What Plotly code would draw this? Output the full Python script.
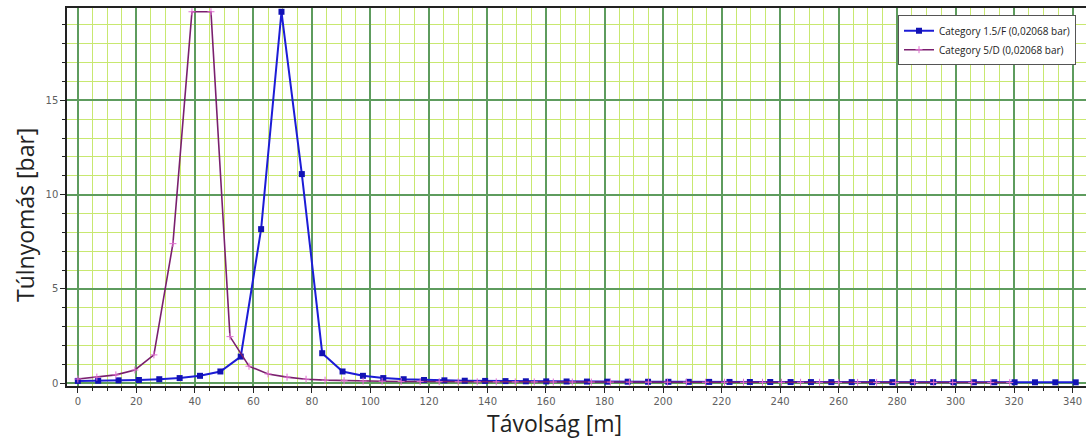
import plotly.graph_objects as go

# Distances [m]
x_15F = [0, 6.96, 13.92, 20.88, 27.84, 34.8, 41.76, 48.72, 55.68, 62.64,
         69.6, 76.56, 83.52, 90.48, 97.44, 104.4, 111.36, 118.32, 125.28, 132.24,
         139.2, 146.16, 153.12, 160.08, 167.04, 174.0, 180.96, 187.92, 194.88, 201.84,
         208.8, 215.76, 222.72, 229.68, 236.64, 243.6, 250.56, 257.52, 264.48, 271.44,
         278.4, 285.36, 292.32, 299.28, 306.24, 313.2, 320.16, 327.12, 334.08, 341.04]
y_15F = [0.12, 0.13, 0.15, 0.17, 0.21, 0.27, 0.39, 0.62, 1.41, 8.17,
         19.7, 11.09, 1.59, 0.62, 0.39, 0.27, 0.21, 0.17, 0.15, 0.13,
         0.12, 0.11, 0.10, 0.095, 0.09, 0.085, 0.08, 0.078, 0.075, 0.072,
         0.07, 0.068, 0.066, 0.064, 0.062, 0.06, 0.058, 0.057, 0.056, 0.055,
         0.054, 0.053, 0.052, 0.051, 0.05, 0.049, 0.048, 0.047, 0.046, 0.045]

x_5D = [0, 6.5, 13, 19.5, 26, 32.5, 39, 45.5, 52, 58.5,
        65, 71.5, 78, 84.5, 91, 97.5, 104, 110.5, 117, 123.5,
        130, 136.5, 143, 149.5, 156, 162.5, 169, 175.5, 182, 188.5,
        195, 201.5, 208, 214.5, 221, 227.5, 234, 240.5, 247, 253.5,
        260, 266.5, 273, 279.5, 286, 292.5, 299, 305.5, 312, 318.5]
y_5D = [0.22, 0.32, 0.44, 0.7, 1.5, 7.4, 19.7, 19.7, 2.47, 0.9,
        0.49, 0.32, 0.21, 0.16, 0.13, 0.11, 0.10, 0.09, 0.085, 0.08,
        0.075, 0.072, 0.07, 0.067, 0.065, 0.062, 0.06, 0.058, 0.056, 0.055,
        0.054, 0.052, 0.051, 0.05, 0.049, 0.048, 0.047, 0.046, 0.045, 0.044,
        0.043, 0.042, 0.041, 0.041, 0.04, 0.04, 0.039, 0.039, 0.038, 0.038]

x_ticks = list(range(0, 341, 20))
y_ticks = [0, 5, 10, 15]

name_15F = "Category 1.5/F (0,02068 bar)"
name_5D = "Category 5/D (0,02068 bar)"
x_title = "Távolság [m]"
y_title = "Túlnyomás [bar]"

W = 1086
L = 67
PW = W - L

fig = go.Figure()
fig.add_trace(go.Scatter(
    x=x_15F, y=y_15F, name=name_15F, mode="lines+markers",
    line=dict(color="#1c1cd6", width=2),
    marker=dict(symbol="square", size=6, color="#1212b4"),
))
fig.add_trace(go.Scatter(
    x=x_5D, y=y_5D, name=name_5D, mode="lines+markers",
    line=dict(color="#7a1f6e", width=1.6),
    marker=dict(symbol="cross-thin", size=5, line=dict(color="#e070d0", width=1)),
))

tickfont = dict(family="DejaVu Sans", size=10, color="#606060")

fig.update_layout(
    width=W, height=444,
    margin=dict(l=L, r=0, t=8, b=58, autoexpand=False),
    paper_bgcolor="white", plot_bgcolor="white",
    font=dict(family="Open Sans"),
    showlegend=True,
    legend=dict(
        x=(1076 - L) / PW, y=0.981, xanchor="right", yanchor="top",
        bgcolor="white", bordercolor="#555555", borderwidth=1,
        font=dict(family="Open Sans", size=10, color="#222222"),
        tracegroupgap=0, itemwidth=30,
    ),
    xaxis=dict(
        range=[-3.7, -3.7 + PW / 2.926], tickvals=x_ticks, ticktext=[str(v) for v in x_ticks],
        automargin=False,
        showgrid=True, gridcolor="#5e9c5e", gridwidth=1.5,
        zeroline=False, showline=True, linecolor="#222222", linewidth=1.5, mirror=True,
        ticks="outside", ticklen=5, tickcolor="#222222", tickfont=tickfont,
        minor=dict(dtick=5, tick0=0, showgrid=True, gridcolor="#c8e870", gridwidth=1,
                   ticks="outside", ticklen=3, tickcolor="#222222"),
    ),
    yaxis=dict(
        range=[-0.15, 19.9], tickvals=y_ticks, ticktext=[str(v) for v in y_ticks],
        automargin=False,
        showgrid=True, gridcolor="#5e9c5e", gridwidth=1.5,
        zeroline=False, showline=True, linecolor="#222222", linewidth=1.5, mirror=False,
        ticks="outside", ticklen=5, tickcolor="#222222", tickfont=tickfont,
        minor=dict(dtick=1, tick0=0, showgrid=True, gridcolor="#c8e870", gridwidth=1,
                   ticks="outside", ticklen=3, tickcolor="#222222"),
    ),
    annotations=[
        dict(text=x_title, xref="paper", yref="paper", x=(554 - L) / PW, y=-(423 - 386) / 378,
             xanchor="center", yanchor="middle", showarrow=False,
             font=dict(family="Open Sans", size=23, color="#222222")),
        dict(text=y_title, xref="paper", yref="paper", x=-(L - 25) / PW, y=(386 - 215) / 378,
             xanchor="center", yanchor="middle", showarrow=False, textangle=-90,
             font=dict(family="Open Sans", size=23, color="#222222")),
    ],
)

fig.write_html("out.html", config={"displayModeBar": False},
               post_script="document.body.style.margin='0';document.body.style.overflow='hidden';")
